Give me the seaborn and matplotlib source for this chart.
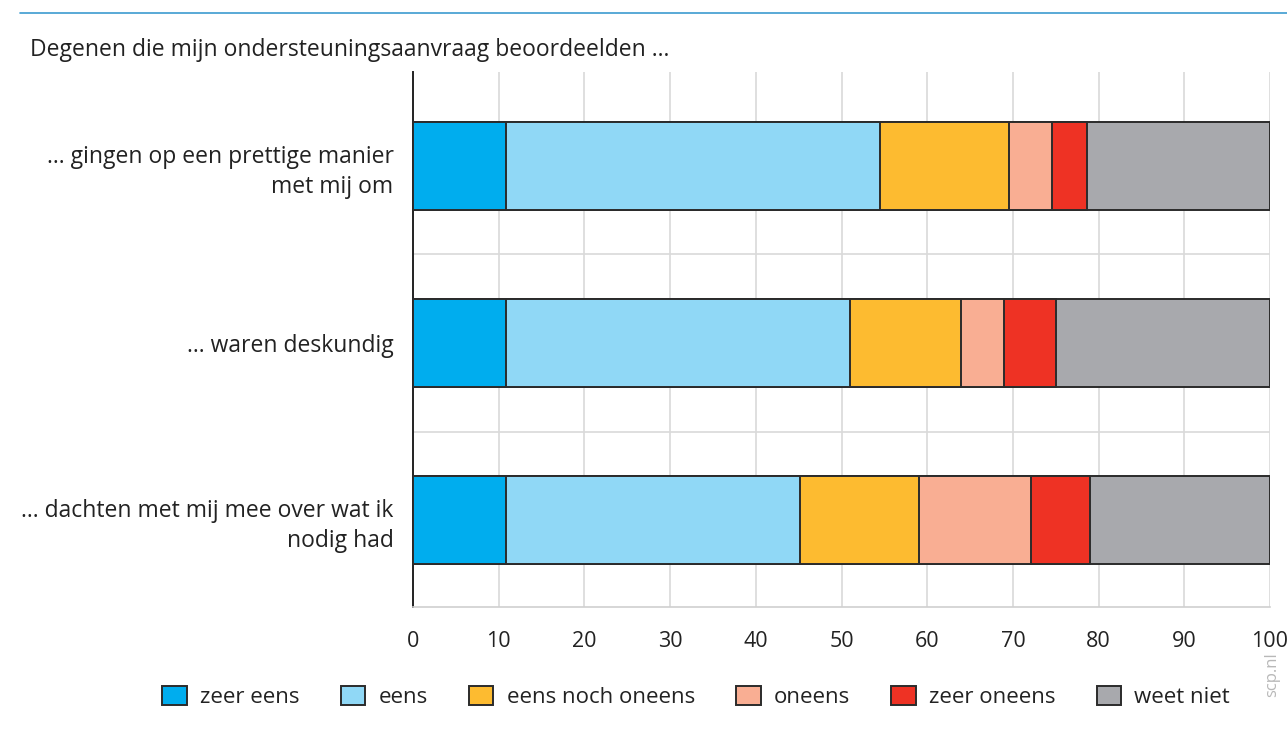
import matplotlib.pyplot as plt
import numpy as np
import pandas as pd
import seaborn as sns
from matplotlib.lines import Line2D

# data (percentages)
statements = [
    "... gingen op een prettige manier\nmet mij om",
    "... waren deskundig",
    "... dachten met mij mee over wat ik\nnodig had",
]
answers = ["zeer eens", "eens", "eens noch oneens", "oneens", "zeer oneens", "weet niet"]
zeer_eens = [10.9, 10.9, 10.9]
eens = [43.6, 40.1, 34.2]
neutraal = [15.0, 13.0, 13.9]
oneens = [5.1, 5.0, 13.1]
zeer_oneens = [4.0, 6.0, 6.9]
weet_niet = [21.4, 25.0, 21.0]
colors = ["#00adee", "#90d8f6", "#fdbb30", "#f9ae93", "#ee3224", "#a8a9ad"]

sns.set_theme(style="white")
plt.rcParams["font.family"] = ["Open Sans", "DejaVu Sans"]

df = pd.DataFrame(
    [zeer_eens, eens, neutraal, oneens, zeer_oneens, weet_niet],
    index=answers, columns=statements,
).T
cum = df.cumsum(axis=1)

fig = plt.figure(figsize=(12.87, 7.35), dpi=100)
ax = fig.add_axes([413 / 1287, 1 - 607 / 735, (1270 - 413) / 1287, (607 - 72) / 735])

# stacked bars: draw cumulative totals from the widest down
for name, col in reversed(list(zip(answers, colors))):
    sns.barplot(
        x=cum[name].values, y=statements, orient="h", color=col,
        width=0.5, edgecolor="#2b2b2b", linewidth=1.4, ax=ax, label=name,
        saturation=1, zorder=3,
    )

ax.set_xlim(0, 100)
ax.set_ylim(2.49, -0.53)
ax.set_xticks(np.arange(0, 101, 10))
ax.set_xlabel("")
ax.set_ylabel("")
ax.tick_params(axis="x", labelsize=15.5, pad=17, length=0, colors="#222222")
ax.tick_params(axis="y", labelsize=16.5, pad=14, length=0, colors="#222222")
for lab in ax.get_yticklabels():
    lab.set_horizontalalignment("right")
    lab.set_multialignment("right")
    lab.set_linespacing(1.35)

ax.grid(axis="x", color="#d9d9d9", linewidth=1.2, zorder=0)
for yy in [0.5, 1.5]:
    ax.axhline(yy, color="#d9d9d9", linewidth=1.2, zorder=0)
for s in ["top", "right"]:
    ax.spines[s].set_visible(False)
ax.spines["left"].set_color("#222222")
ax.spines["left"].set_linewidth(1.4)
ax.spines["bottom"].set_color("#d0d0d0")
ax.spines["bottom"].set_linewidth(1.2)

# legend in original order
handles, labels = ax.get_legend_handles_labels()
order = [labels.index(a) for a in answers]
ax.legend(
    [handles[i] for i in order], answers,
    loc="center", bbox_to_anchor=(0.541, 0.052), bbox_transform=fig.transFigure,
    ncol=6, frameon=False, fontsize=16, handlelength=1.1, handleheight=1.0,
    columnspacing=1.85, handletextpad=0.6, labelcolor="#222222",
)

# header line and title
fig.add_artist(Line2D([20 / 1287, 1], [1 - 13 / 735] * 2, color="#3c9bd0", linewidth=1.2))
fig.text(30 / 1287, 1 - 50 / 735, "Degenen die mijn ondersteuningsaanvraag beoordeelden ...",
         fontsize=16.5, va="center", ha="left", color="#222222")
fig.text(1272 / 1287, 1 - 675 / 735, "scp.nl", rotation=90, fontsize=12,
         color="#b8b8b8", ha="center", va="center")

fig.savefig("out.png", dpi=100)
